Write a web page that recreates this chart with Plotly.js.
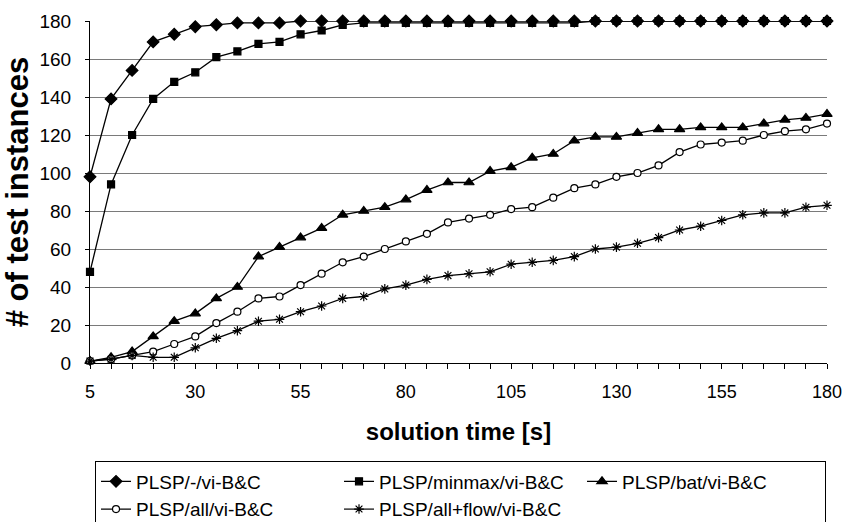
<!DOCTYPE html>
<html>
<head>
<meta charset="utf-8">
<script src="https://cdn.plot.ly/plotly-3.0.1.min.js"></script>
<style>html,body{margin:0;padding:0;background:#fff;}#chart{width:846px;height:522px;}</style>
</head>
<body>
<div id="chart"></div>
<script>
const solutionTime = [5,10,15,20,25,30,35,40,45,50,55,60,65,70,75,80,85,90,95,100,105,110,115,120,125,130,135,140,145,150,155,160,165,170,175,180];
const seriesNames = ["PLSP/-/vi-B&C","PLSP/minmax/vi-B&C","PLSP/bat/vi-B&C","PLSP/all/vi-B&C","PLSP/all+flow/vi-B&C"];
const plain  = [98,139,154,169,173,177,178,179,179,179,180,180,180,180,180,180,180,180,180,180,180,180,180,180,180,180,180,180,180,180,180,180,180,180,180,180];
const minmax = [48,94,120,139,148,153,161,164,168,169,173,175,178,179,179,179,179,179,179,179,179,179,179,179,180,180,180,180,180,180,180,180,180,180,180,180];
const bat    = [1,3,6,14,22,26,34,40,56,61,66,71,78,80,82,86,91,95,95,101,103,108,110,117,119,119,121,123,123,124,124,124,126,128,129,131];
const all    = [1,2,4,6,10,14,21,27,34,35,41,47,53,56,60,64,68,74,76,78,81,82,87,92,94,98,100,104,111,115,116,117,120,122,123,126];
const allFlow= [1,2,4,3,3,8,13,17,22,23,27,30,34,35,39,41,44,46,47,48,52,53,54,56,60,61,63,66,70,72,75,78,79,79,82,83];
const yTicks = [0,20,40,60,80,100,120,140,160,180];
const xTicks = [5,30,55,80,105,130,155,180];

const FONT = "Liberation Sans, Arial, sans-serif";
function mk(y, name, symbol, size, color) {
  return {
    x: solutionTime, y: y, name: name, type: 'scatter', mode: 'lines+markers',
    cliponaxis: false,
    line: {color: '#000', width: 1.3},
    marker: {symbol: symbol, size: size, color: color, line: {color: '#000', width: 1.2}}
  };
}
const traces = [
  mk(plain,  seriesNames[0], 'diamond', 9, '#000'),
  mk(minmax, seriesNames[1], 'square', 7, '#000'),
  mk(bat,    seriesNames[2], 'triangle-up', 9, '#000'),
  mk(all,    seriesNames[3], 'circle', 7, '#fff'),
  mk(allFlow,seriesNames[4], 'asterisk-open', 8, '#000')
];

const layout = {
  width: 846, height: 522,
  margin: {l: 90, r: 19, t: 21, b: 159, autoexpand: false},
  paper_bgcolor: '#fff', plot_bgcolor: '#fff',
  font: {family: FONT, color: '#000', size: 18},
  showlegend: true,
  xaxis: {
    range: [5, 180], tickvals: xTicks, ticktext: xTicks.map(String),
    ticks: 'outside', ticklen: 5, tickcolor: '#000', tickwidth: 1,
    minor: {dtick: 5, tick0: 5, ticks: 'outside', ticklen: 5, tickcolor: '#000', showgrid: false},
    showline: true, linecolor: '#000', linewidth: 1,
    showgrid: false, zeroline: false, automargin: false,
    ticklabelstandoff: 7,
    tickfont: {family: FONT, size: 18, color: '#000'},
    title: {text: 'solution time [s]', font: {family: FONT, size: 24, color: '#000', weight: 'bold'}, standoff: 22}
  },
  yaxis: {
    range: [0, 180], tickvals: yTicks, ticktext: yTicks.map(String),
    ticks: 'outside', ticklen: 4, tickcolor: '#000', tickwidth: 1,
    showline: true, linecolor: '#000', linewidth: 1,
    showgrid: true, gridcolor: '#7a7a7a', gridwidth: 1, zeroline: false, automargin: false,
    ticklabelstandoff: 10,
    tickfont: {family: FONT, size: 19, color: '#000'},
    title: {text: '# of test instances', font: {family: FONT, size: 31, color: '#000', weight: 'bold'}, standoff: 12}
  },
  legend: {
    orientation: 'h', x: 0.0068, xanchor: 'left', y: -0.288, yanchor: 'top',
    entrywidth: 198, entrywidthmode: 'pixels',
    bordercolor: '#000', borderwidth: 1, bgcolor: '#fff',
    font: {family: FONT, size: 19, color: '#000'},
    traceorder: 'normal'
  }
};
Plotly.newPlot('chart', traces, layout, {displayModeBar: false, staticPlot: true});
</script>
</body>
</html>
